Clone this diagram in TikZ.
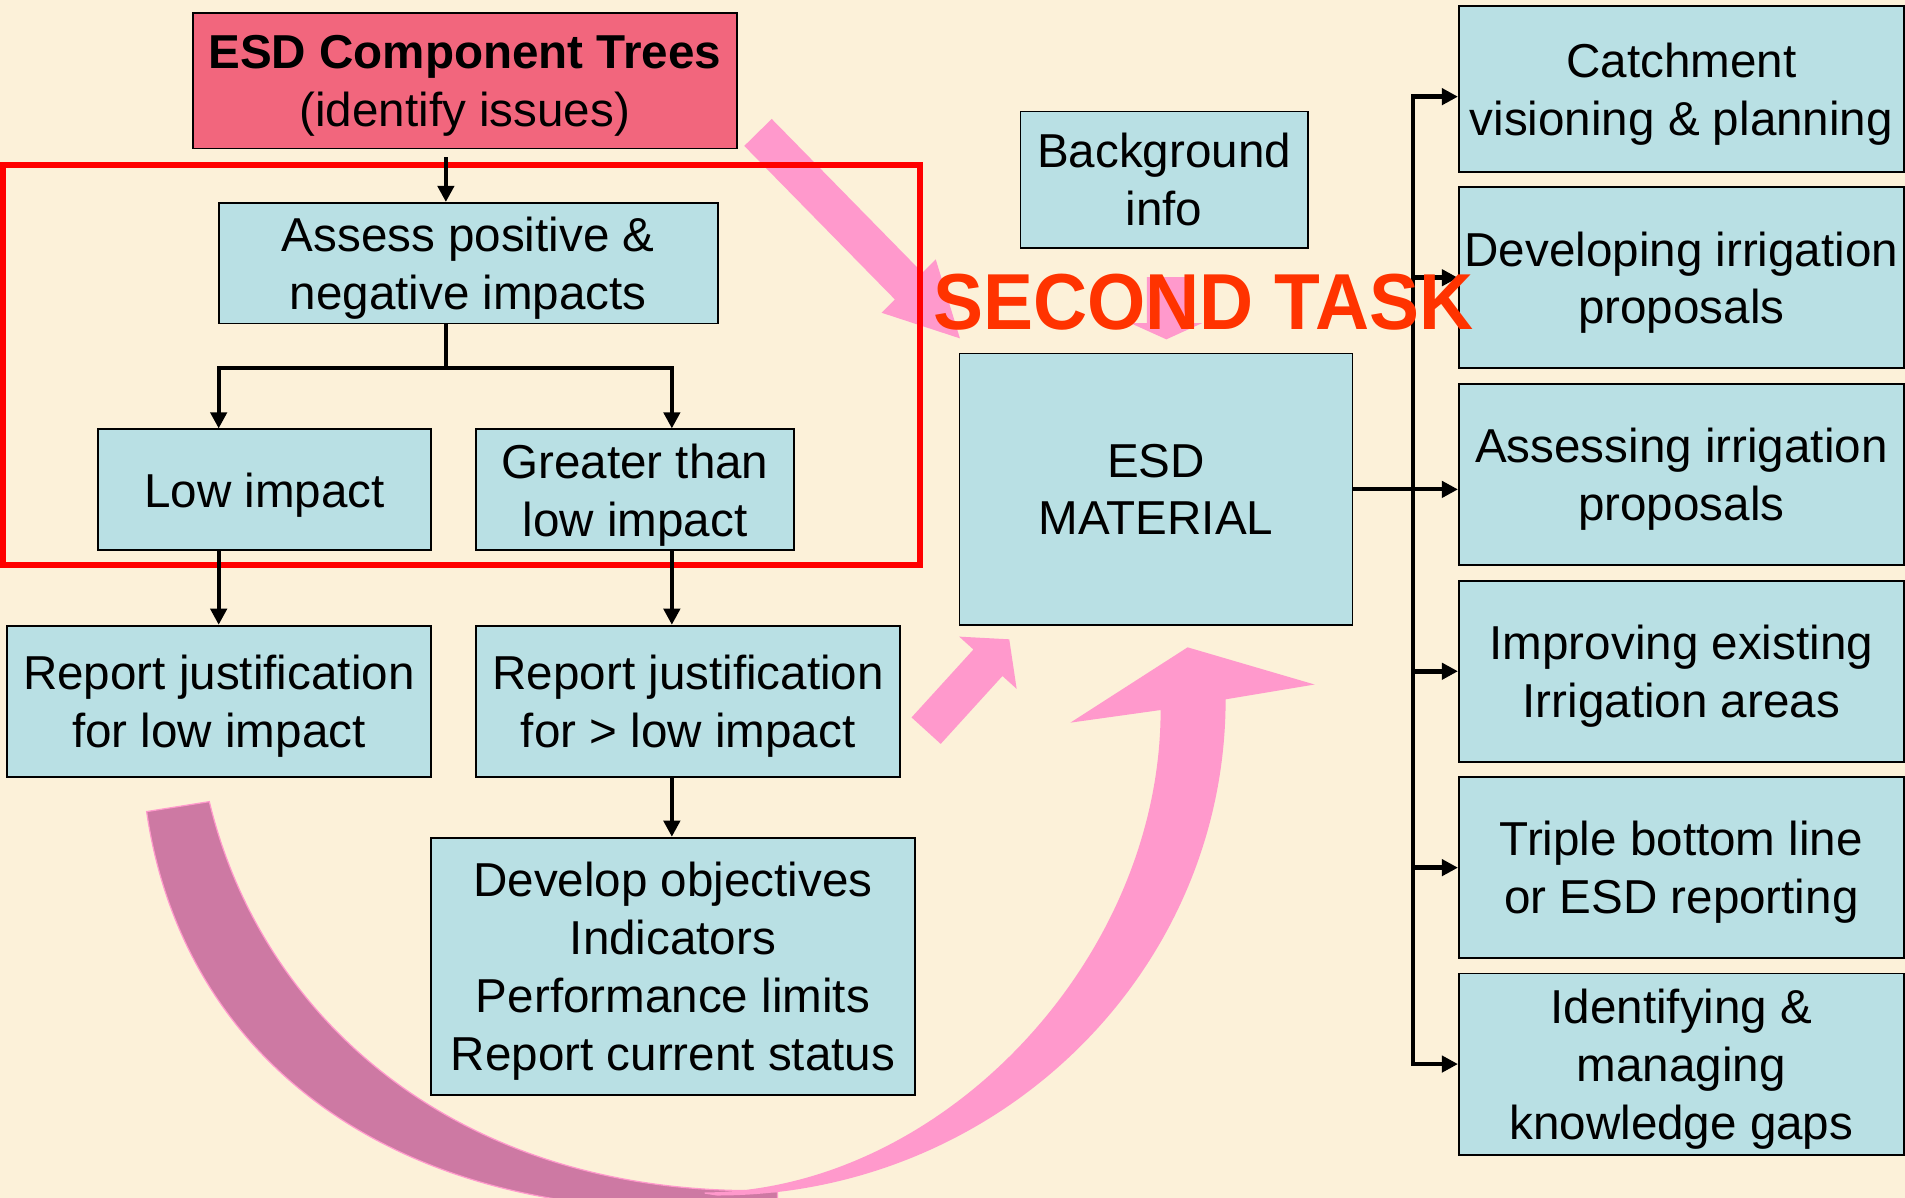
\documentclass[tikz,border=0pt]{standalone}
\usepackage{fontspec}
\setmainfont{Liberation Sans}
\usetikzlibrary{arrows.meta,calc}

\definecolor{paper}{RGB}{252,241,217}
\definecolor{boxfill}{RGB}{185,224,228}
\definecolor{treefill}{RGB}{242,102,125}
\definecolor{framered}{RGB}{255,0,0}
\definecolor{taskred}{RGB}{255,51,0}
\definecolor{pinklight}{RGB}{255,153,204}
\definecolor{pinkdark}{RGB}{205,121,163}

\tikzset{
  % a rectangle given by its left, top, right and bottom edges
  spanning/.style n args={4}{
    minimum width={(#3-#1)*0.6pt}, minimum height={(#4-#2)*0.6pt},
    at={({(#1+#3)/2},{(#2+#4)/2})}},
  % a fixed (slightly negative) text depth sets every text block a little
  % below the geometric middle of its box, whatever its last line holds
  box/.style={draw=black, line width=0.9pt, fill=boxfill, inner sep=0pt,
    align=center, font=\fontsize{23.5}{28.6}\selectfont, text depth=-1pt},
  treebox/.style={box, fill=treefill},
  focusframe/.style={draw=framered, line width=3pt, inner sep=0pt},
  link/.style={line width=2pt, line join=miter},
  conn/.style={link, ->},
  busline/.style={line width=2.4pt, line join=miter, <->},
  ribbonlight/.style={fill=pinklight},
  ribbondark/.style={fill=pinkdark, draw=pinklight, line width=0.6pt},
}

\begin{document}
\begin{tikzpicture}[x={(0.6pt,0)}, y={(0,-0.6pt)},
  >={Triangle[length=8pt,width=8pt]}]

% page and background
\useasboundingbox (0,0) rectangle (1568,986);
\fill[paper] (0,0) rectangle (1568,986);

% large curved return arrow: shaded back part
\filldraw[ribbondark]
  (120.7,668) .. controls (150,870) and (318,995) .. (560,995)
  -- (640,1000) -- (640,981) -- (620,980)
  .. controls (373,980) and (214.8,836.8) .. (172.3,659.8)
  -- cycle;

% large curved return arrow: front part with head
\fill[ribbonlight]
  (580,982.5) -- (590,984) .. controls (820.7,984) and (1008.8,801.4) .. (1008.8,575.6)
  -- (1082,563.4) -- (977.5,532.8) -- (881,594.8) -- (955.3,584.4)
  .. controls (955.3,790) and (775,980) .. (580,981.5) -- cycle;

% straight block arrow towards the second task
\fill[ribbonlight] (635.2,97.9) -- (759.2,224.4) -- (770.2,213.5) -- (790.1,278.5)
  -- (725.6,257.4) -- (736.6,246.5) -- (612.6,120.1) -- cycle;

% short block arrow from the background info
\fill[ribbonlight] (944,228) -- (976,228) -- (976,266) -- (989.3,266)
  -- (960,279.3) -- (930.6,266) -- (944,266) -- cycle;

% small block arrow into the ESD material
\fill[ribbonlight] (750.3,590.5) -- (801.2,534.6) -- (789.5,524) -- (830.7,526.2)
  -- (836.8,567) -- (825.1,556.4) -- (774.3,612.3) -- cycle;

% highlighted first stage
\node[focusframe, spanning={2.5}{135.5}{757}{465}] (focus) {};

% left tree
\node[treebox, spanning={158.8}{10.4}{606.3}{122.2}] (tree)
  {{\bfseries ESD Component Trees}\\(identify issues)};
\node[box, spanning={180}{167}{590.7}{266.2}] (assess)
  {Assess positive \&\\negative impacts};
\node[box, spanning={80.6}{353.4}{354.8}{453}] (low) {Low impact};
\node[box, spanning={392}{353.4}{653.2}{453}] (greater) {Greater than\\low impact};
\node[box, spanning={5.5}{515}{354.8}{639.3}] (replow)
  {Report justification\\for low impact};
\node[box, spanning={392}{515}{740.9}{639.3}] (repgt)
  {Report justification\\for > low impact};
\node[box, spanning={354.8}{689.5}{753}{901}] (develop)
  {Develop objectives\\Indicators\\Performance limits\\Report current status};

% middle
\node[box, spanning={839.9}{91.7}{1076.3}{203.9}] (background) {Background\\info};
\node[box, spanning={789.8}{290.9}{1113.2}{514.7}] (material) {ESD\\MATERIAL};

% right column
\node[box, spanning={1200.8}{4.7}{1567}{141.8}] (catch)
  {Catchment\\visioning \& planning};
\node[box, spanning={1200.8}{154.2}{1567}{303}] (developing)
  {Developing irrigation\\proposals};
\node[box, spanning={1200.8}{315.8}{1567}{465.3}] (assessing)
  {Assessing irrigation\\proposals};
\node[box, spanning={1200.8}{478}{1567}{627}] (improving)
  {Improving existing\\Irrigation areas};
\node[box, spanning={1200.8}{639.5}{1567}{788.8}] (triple)
  {Triple bottom line\\or ESD reporting};
\node[box, spanning={1200.8}{801.2}{1567}{950.4}] (identify)
  {Identifying \&\\managing\\knowledge gaps};

% routing points
\coordinate (trunk) at (367,303);
\coordinate (barL) at (180,303);
\coordinate (barR) at (553,303);
\coordinate (bus) at (1163,403);
\coordinate (catchin) at ($(catch.west)+(0,6.3)$);

% tree connectors
\draw[conn, shorten <=4pt] (tree.south -| trunk) -- (assess.north -| trunk);
\draw[link] (assess.south -| trunk) -- (trunk);
\draw[link, <->] (low.north -| barL) -- (barL) -- (barR) -- (greater.north -| barR);
\draw[conn] (low.south -| barL) -- (replow.north -| barL);
\draw[conn] (greater.south -| barR) -- (repgt.north -| barR);
\draw[conn] (repgt.south -| barR) -- (develop.north -| barR);

% distribution of the ESD material
\draw[conn] (material.east) -- (material.east -| assessing.west);
\draw[busline] (catchin) -- (catchin -| bus) -- (identify.west -| bus) -- (identify.west);
\foreach \b in {developing, improving, triple}
  \draw[conn, line width=2.4pt] (\b.west -| bus) -- (\b.west);

% title of the second stage
\node[anchor=base, text=taskred, inner sep=0pt,
  font=\fontsize{37}{40}\selectfont\bfseries] (task) at (990.5,271.6)
  {\scalebox{1}[1.06]{SECOND TASK}};

\end{tikzpicture}
\end{document}
